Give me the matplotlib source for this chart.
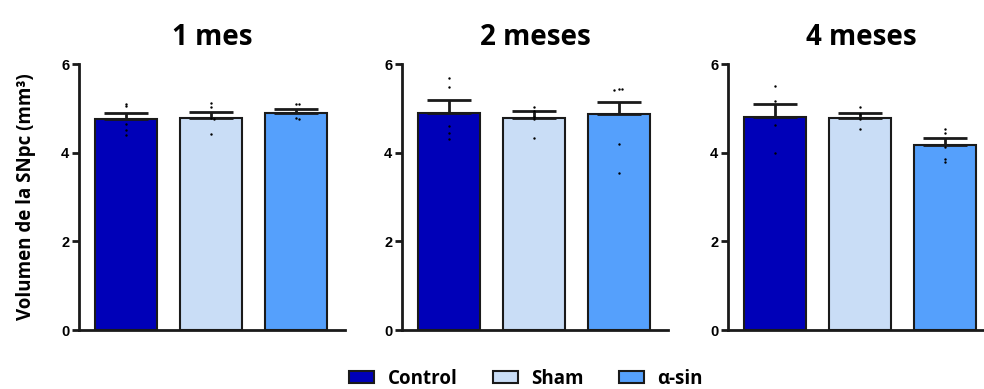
import matplotlib
matplotlib.use("Agg")
import matplotlib.pyplot as plt
from matplotlib.patches import Patch
import numpy as np

titles = ["1 mes", "2 meses", "4 meses"]
groups = ["Control", "Sham", "α-sin"]
colors = ["#0000B8", "#C9DDF6", "#55A0FC"]

means = [
    [4.77, 4.79, 4.90],
    [4.90, 4.79, 4.87],
    [4.80, 4.78, 4.17],
]
upper = [
    [4.90, 4.91, 4.99],
    [5.19, 4.93, 5.15],
    [5.09, 4.89, 4.33],
]
points = [
    [[5.10, 5.06, 4.65, 4.52, 4.40], [5.13, 5.02, 4.78, 4.77, 4.42], [5.10, 5.10, 4.78, 4.76]],
    [[5.68, 5.47, 4.60, 4.45, 4.30], [5.03, 4.95, 4.80, 4.75, 4.32], [5.44, 5.43, 5.42, 4.20, 3.55]],
    [[5.50, 5.17, 4.62, 3.99], [5.04, 4.88, 4.77, 4.53], [4.53, 4.45, 4.12, 3.86, 3.78]],
]
yticks = [0, 2, 4, 6]
ylabel = "Volumen de la SNpc (mm³)"

edge = "#1a1a1a"
W, H = 984, 389
fig = plt.figure(figsize=(W / 100, H / 100), dpi=100)

lefts = [79, 402, 728]
ax_w = 266
y_bottom, y_top = 330, 64
bw = 0.73
tick_font = dict(family=["Liberation Sans", "DejaVu Sans"], weight="bold", size=10.5)
txt_font = ["Open Sans", "DejaVu Sans"]

for i in range(3):
    ax = fig.add_axes([lefts[i] / W, 1 - y_bottom / H, ax_w / W, (y_bottom - y_top) / H])
    x = np.arange(3)
    ax.bar(x, means[i], width=bw, color=colors, edgecolor=edge, linewidth=1.5, zorder=2)
    err = np.array(upper[i]) - np.array(means[i])
    ax.errorbar(x, means[i], yerr=[np.zeros(3), err], fmt="none", ecolor=edge,
                elinewidth=2, capsize=16, capthick=2, zorder=3)
    for j in range(3):
        vals = points[i][j]
        xs = []
        for k, v in enumerate(vals):
            close = [u for u in vals[:k] if abs(u - v) < 0.04]
            off = 0.03 * len(close) * (1 if len(close) % 2 else -1)
            xs.append(j + off)
        ax.scatter(xs, vals, s=3, color="black", zorder=4, linewidths=0)
    ax.set_ylim(0, 6)
    ax.set_xlim(-bw / 2 - 0.19, 2 + bw / 2 + 0.21)
    ax.set_yticks(yticks)
    ax.set_yticklabels([str(t) for t in yticks], fontdict=tick_font)
    ax.set_xticks([])
    for s in ["top", "right"]:
        ax.spines[s].set_visible(False)
    for s in ["left", "bottom"]:
        ax.spines[s].set_linewidth(2)
        ax.spines[s].set_color(edge)
    ax.tick_params(axis="y", length=5, width=2, color=edge, pad=2)
    ax.set_title(titles[i], fontsize=20, fontweight="bold", family=txt_font, pad=14)
    if i == 0:
        ax.set_ylabel(ylabel, fontsize=13.5, fontweight="bold", family=txt_font, labelpad=18)

handles = [Patch(facecolor=c, edgecolor=edge, linewidth=1.5) for c in colors]
fig.legend(handles, groups, loc="center", bbox_to_anchor=(526 / W, 1 - 379 / H), ncol=3,
           frameon=False, prop=dict(family=txt_font, weight="bold", size=13.5),
           handlelength=1.33, handleheight=0.6, columnspacing=1.9, handletextpad=0.7,
           borderpad=0, borderaxespad=0)

fig.savefig("out.png", dpi=100)
